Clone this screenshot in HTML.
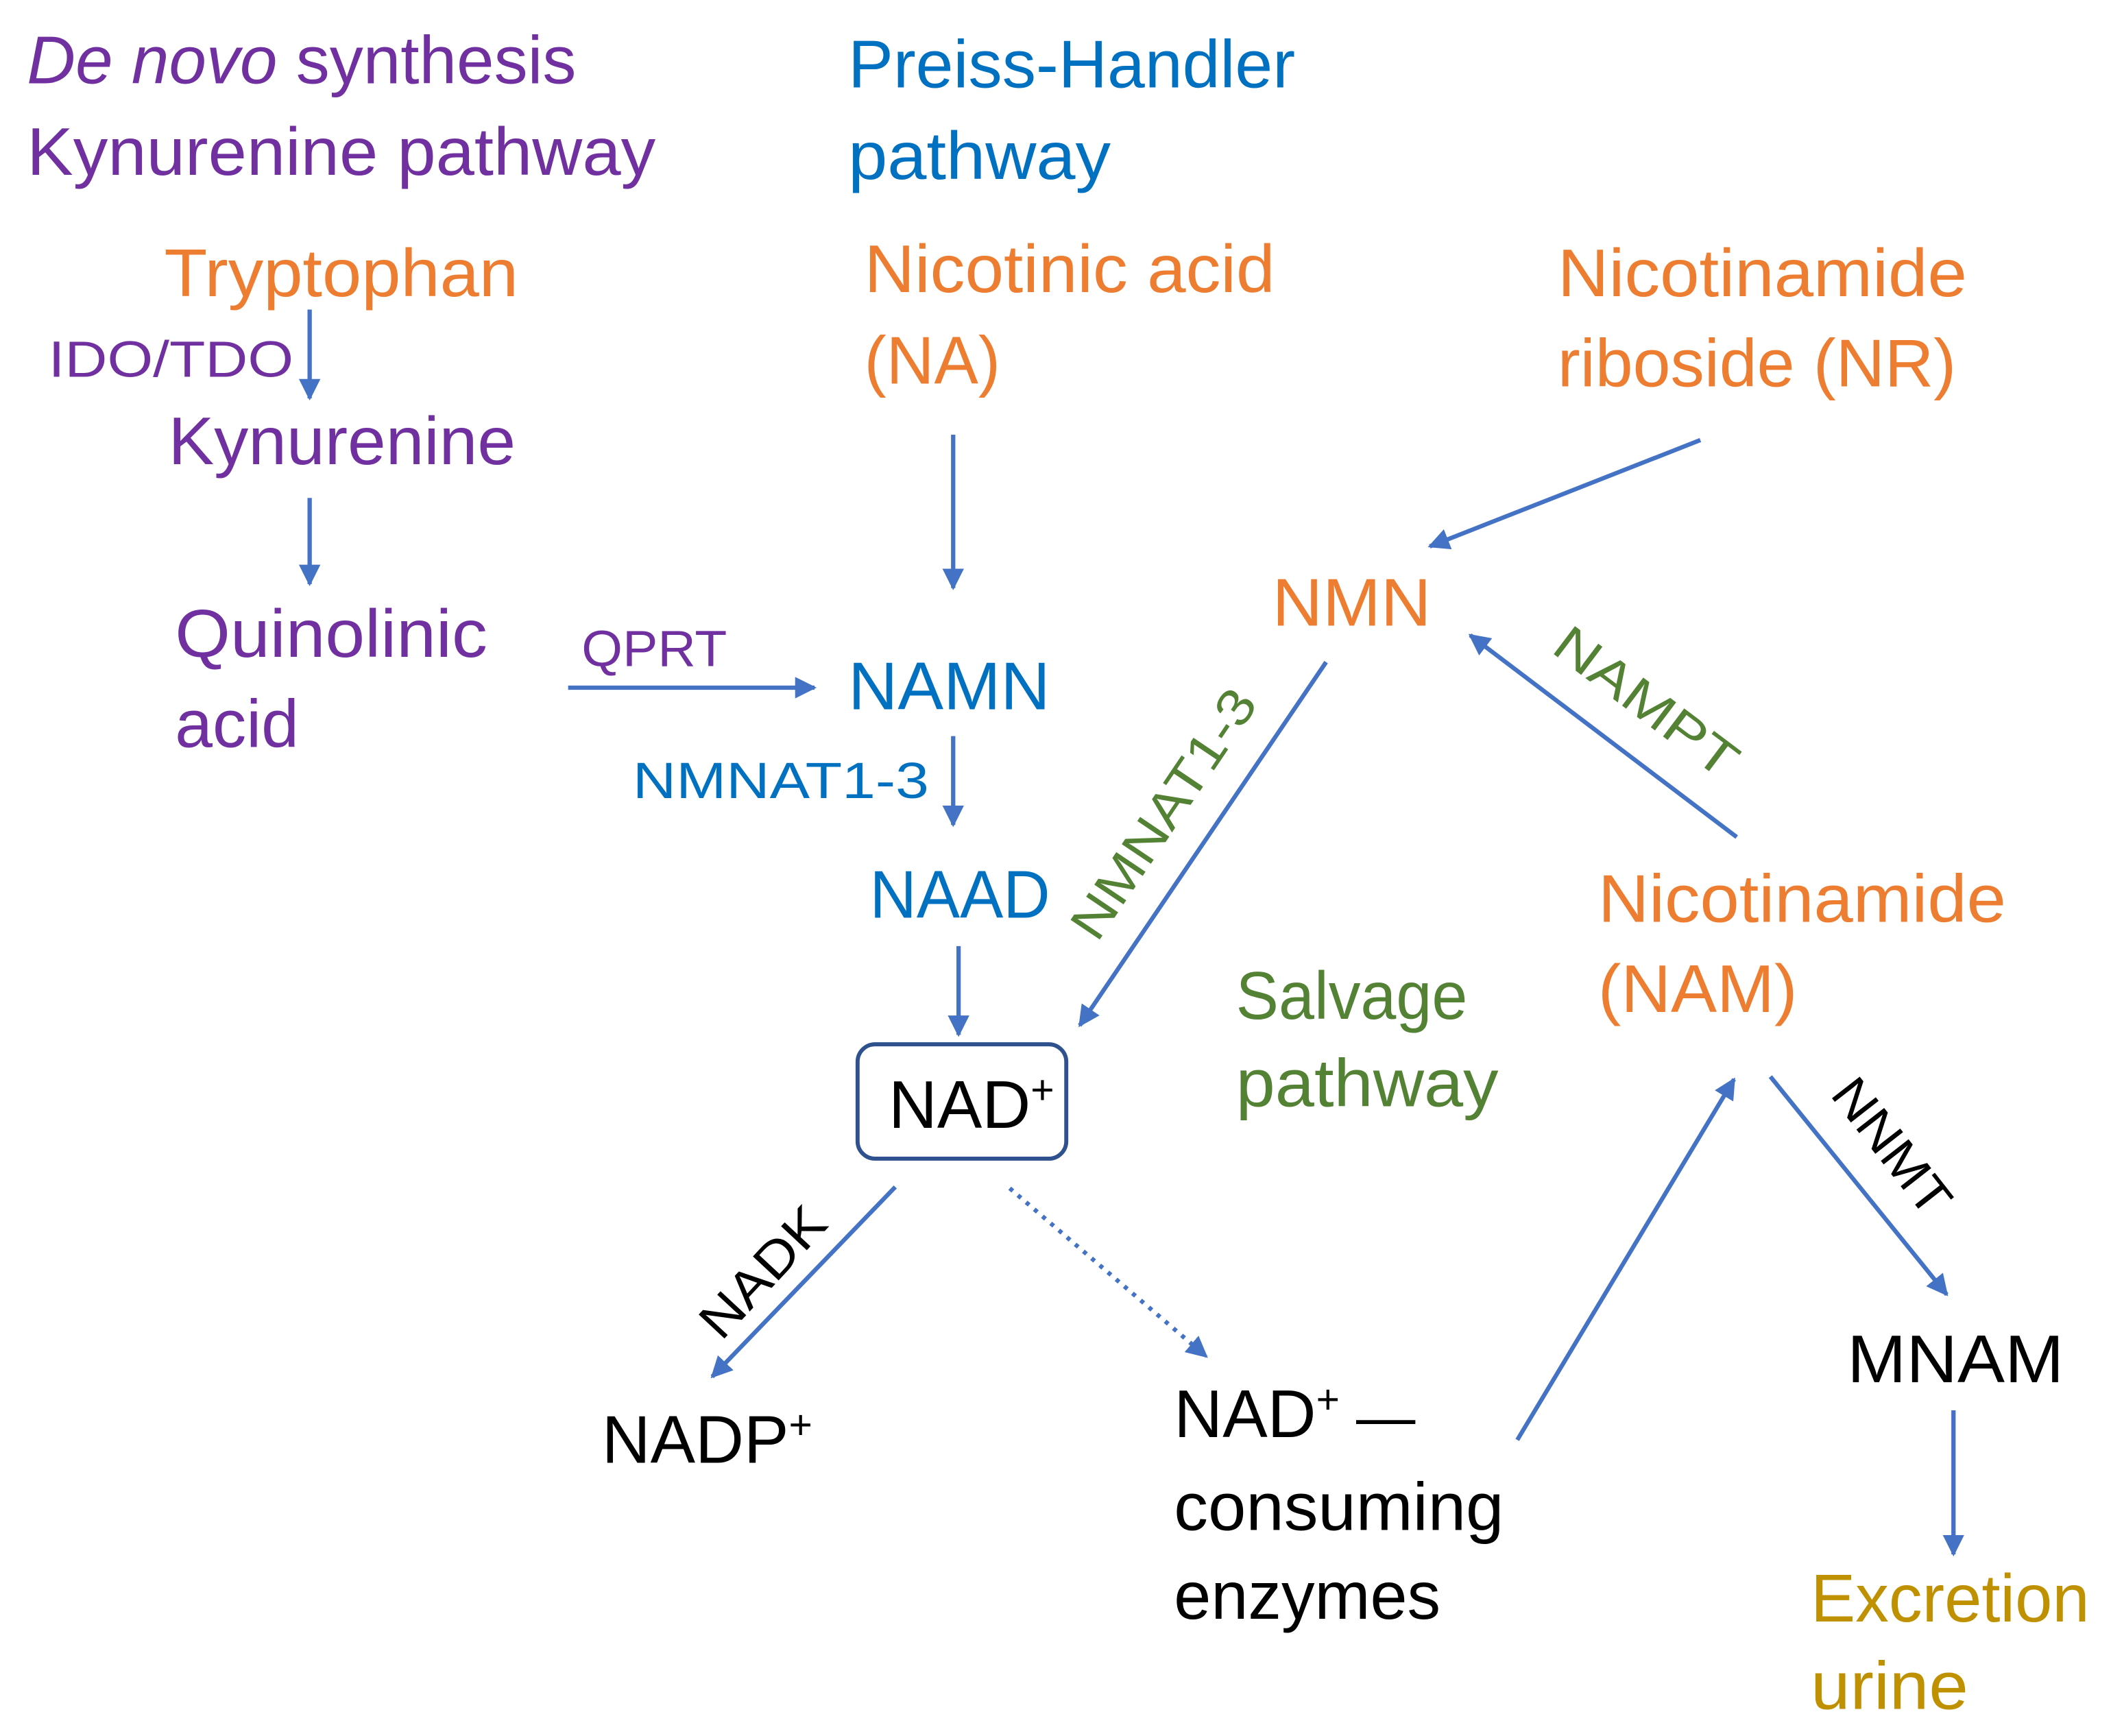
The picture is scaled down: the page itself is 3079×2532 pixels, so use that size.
<!DOCTYPE html>
<html><head><meta charset="utf-8"><style>
html,body{margin:0;padding:0;background:#fff;}
svg{display:block;}
text{font-family:"Liberation Sans",sans-serif;}
</style></head><body>
<svg width="3079" height="2532" viewBox="0 0 1568 1290" preserveAspectRatio="none" xmlns="http://www.w3.org/2000/svg">
<defs>
<marker id="a" viewBox="0 0 10 10" refX="9" refY="5" markerWidth="5" markerHeight="5" orient="auto" markerUnits="strokeWidth">
<path d="M0,0 L10,5 L0,10 Z" fill="#4472C4"/></marker>
</defs>
<g font-size="50">
<text x="20" y="62" fill="#7030A0" textLength="408" lengthAdjust="spacingAndGlyphs"><tspan font-style="italic">De novo</tspan> synthesis</text>
<text x="20" y="130" fill="#7030A0" textLength="467" lengthAdjust="spacingAndGlyphs">Kynurenine pathway</text>
<text x="630" y="65" fill="#0070C0" textLength="332" lengthAdjust="spacingAndGlyphs">Preiss-Handler</text>
<text x="630" y="133" fill="#0070C0" textLength="195" lengthAdjust="spacingAndGlyphs">pathway</text>
<text x="122" y="220" fill="#ED7D31" textLength="263" lengthAdjust="spacingAndGlyphs">Tryptophan</text>
<text x="125" y="345" fill="#7030A0" textLength="258" lengthAdjust="spacingAndGlyphs">Kynurenine</text>
<text x="130" y="488" fill="#7030A0" textLength="232" lengthAdjust="spacingAndGlyphs">Quinolinic</text>
<text x="130" y="555" fill="#7030A0" textLength="92" lengthAdjust="spacingAndGlyphs">acid</text>
<text x="642" y="217" fill="#ED7D31" textLength="305" lengthAdjust="spacingAndGlyphs">Nicotinic acid</text>
<text x="642" y="285" fill="#ED7D31" textLength="101" lengthAdjust="spacingAndGlyphs">(NA)</text>
<text x="630" y="527" fill="#0070C0" textLength="150" lengthAdjust="spacingAndGlyphs">NAMN</text>
<text x="646" y="682" fill="#0070C0" textLength="134" lengthAdjust="spacingAndGlyphs">NAAD</text>
<text x="1157" y="220" fill="#ED7D31" textLength="304" lengthAdjust="spacingAndGlyphs">Nicotinamide</text>
<text x="1157" y="287" fill="#ED7D31" textLength="296" lengthAdjust="spacingAndGlyphs">riboside (NR)</text>
<text x="945" y="465" fill="#ED7D31" textLength="118" lengthAdjust="spacingAndGlyphs">NMN</text>
<text x="1187" y="685" fill="#ED7D31" textLength="303" lengthAdjust="spacingAndGlyphs">Nicotinamide</text>
<text x="1187" y="752" fill="#ED7D31" textLength="148" lengthAdjust="spacingAndGlyphs">(NAM)</text>
<text x="918" y="757" fill="#548235" textLength="172" lengthAdjust="spacingAndGlyphs">Salvage</text>
<text x="918" y="822" fill="#548235" textLength="195" lengthAdjust="spacingAndGlyphs">pathway</text>
<text x="660" y="838" fill="#000">NAD<tspan font-size="30" dy="-18">+</tspan></text>
<text x="447" y="1087" fill="#000">NADP<tspan font-size="30" dy="-18">+</tspan></text>
<text x="872" y="1068" fill="#000">NAD<tspan font-size="30" dy="-18">+</tspan><tspan dy="18" font-size="44"> —</tspan></text>
<text x="872" y="1137" fill="#000" textLength="245" lengthAdjust="spacingAndGlyphs">consuming</text>
<text x="872" y="1203" fill="#000" textLength="198" lengthAdjust="spacingAndGlyphs">enzymes</text>
<text x="1372" y="1027" fill="#000" textLength="161" lengthAdjust="spacingAndGlyphs">MNAM</text>
<text x="1345" y="1205" fill="#BF9000" textLength="207" lengthAdjust="spacingAndGlyphs">Excretion</text>
<text x="1345" y="1270" fill="#BF9000" textLength="117" lengthAdjust="spacingAndGlyphs">urine</text>
</g>
<g font-size="38">
<text x="36" y="280" fill="#7030A0" textLength="182" lengthAdjust="spacingAndGlyphs">IDO/TDO</text>
<text x="432" y="495" fill="#7030A0" textLength="108" lengthAdjust="spacingAndGlyphs">QPRT</text>
<text x="470" y="593" fill="#0070C0" textLength="220" lengthAdjust="spacingAndGlyphs">NMNAT1-3</text>
<text transform="translate(875,612) rotate(-56)" text-anchor="middle" fill="#548235" textLength="215" lengthAdjust="spacingAndGlyphs">NMNAT1-3</text>
<text transform="translate(1215,532) rotate(37)" text-anchor="middle" fill="#548235" textLength="160" lengthAdjust="spacingAndGlyphs">NAMPT</text>
<text transform="translate(576,954) rotate(-47)" text-anchor="middle" fill="#000" textLength="118" lengthAdjust="spacingAndGlyphs">NADK</text>
<text transform="translate(1395,860) rotate(52)" text-anchor="middle" fill="#000" textLength="118" lengthAdjust="spacingAndGlyphs">NNMT</text>
</g>
<rect x="637" y="776" width="155" height="85" rx="13" fill="none" stroke="#2F528F" stroke-width="3"/>
<g stroke="#4472C4" stroke-width="3.2" fill="none" marker-end="url(#a)">
<line x1="230" y1="230" x2="230" y2="296"/>
<line x1="230" y1="370" x2="230" y2="434"/>
<line x1="422" y1="511" x2="605" y2="511"/>
<line x1="708" y1="323" x2="708" y2="437"/>
<line x1="708" y1="547" x2="708" y2="613"/>
<line x1="712" y1="703" x2="712" y2="769"/>
<line x1="1263" y1="327" x2="1062" y2="406"/>
<line x1="985" y1="492" x2="802" y2="762"/>
<line x1="1290" y1="622" x2="1092" y2="472"/>
<line x1="665" y1="882" x2="529" y2="1023"/>
<line x1="750" y1="883" x2="896" y2="1008" stroke-dasharray="3,5"/>
<line x1="1127" y1="1070" x2="1288" y2="802"/>
<line x1="1315" y1="800" x2="1446" y2="962"/>
<line x1="1451" y1="1048" x2="1451" y2="1155"/>
</g>
</svg>
</body></html>
